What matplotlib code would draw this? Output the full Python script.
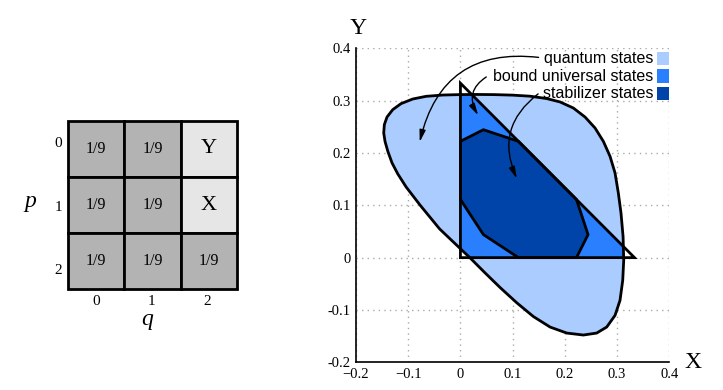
import matplotlib
matplotlib.use("Agg")
import matplotlib.pyplot as plt
from matplotlib.patches import Polygon, Rectangle

# ---------------- data ----------------
# left panel: 3x3 grid (rows p = 0..2, columns q = 0..2)
cell_labels = [["1/9", "1/9", "Y"],
               ["1/9", "1/9", "X"],
               ["1/9", "1/9", "1/9"]]
cell_light = [[False, False, True],
              [False, False, True],
              [False, False, False]]
row_ticks = ["0", "1", "2"]
col_ticks = ["0", "1", "2"]

# right panel: boundary of the quantum-state region
quantum_x = [-0.1469, -0.1457, -0.1406, -0.1296, -0.1137, -0.0913, -0.0659,
             -0.0339, -0.0020, 0.0300, 0.0650, 0.1000, 0.1330, 0.1650,
             0.1907, 0.2162, 0.2386, 0.2578, 0.2737, 0.2865, 0.2961,
             0.3024, 0.3075, 0.3115, 0.3127, 0.3108, 0.3056, 0.2961,
             0.2802, 0.2610, 0.2354, 0.2035, 0.1716, 0.1396, 0.1078,
             0.0758, 0.0450, 0.0180, 0.0000, -0.0400, -0.0770, -0.1040,
             -0.1200, -0.1310, -0.1390, -0.1444]
quantum_y = [0.2381, 0.2542, 0.2687, 0.2828, 0.2943, 0.3031, 0.3082,
             0.3107, 0.3115, 0.3118, 0.3115, 0.3105, 0.3085, 0.3040,
             0.2975, 0.2859, 0.2687, 0.2477, 0.2222, 0.1936, 0.1617,
             0.1234, 0.0852, 0.0400, -0.0050, -0.0434, -0.0816, -0.1103,
             -0.1326, -0.1441, -0.1479, -0.1441, -0.1326, -0.1125, -0.0862,
             -0.0570, -0.0270, 0.0000, 0.0170, 0.0550, 0.1000, 0.1350,
             0.1600, 0.1810, 0.2030, 0.2220]

# bound universal states: triangle
tri_x = [0.0, 1/3, 0.0]
tri_y = [0.0, 0.0, 1/3]

# stabilizer states polygon
stab_x = [0.0, 0.044, 1/9, 2/9, 0.2444, 2/9, 1/9, 0.044, 0.0]
stab_y = [2/9, 0.2444, 2/9, 1/9, 0.044, 0.0, 0.0, 0.044, 1/9]

legend_labels = ["quantum states", "bound universal states", "stabilizer states"]
legend_colors = ["#aaccff", "#2a7fff", "#0044aa"]

xticks = [-0.2, -0.1, 0.0, 0.1, 0.2, 0.3, 0.4]
xtick_labels = ["\u22120.2", "\u22120.1", "0", "0.1", "0.2", "0.3", "0.4"]
yticks = [-0.2, -0.1, 0.0, 0.1, 0.2, 0.3, 0.4]
ytick_labels = ["-0.2", "-0.1", "0", "0.1", "0.2", "0.3", "0.4"]

# ---------------- figure ----------------
W, H = 723, 390
fig = plt.figure(figsize=(W / 100, H / 100), dpi=100)
serif = ["Liberation Serif", "DejaVu Serif"]
sans = ["Liberation Sans", "DejaVu Sans"]

# ----- left panel -----
axL = fig.add_axes([68.3 / W, (H - 289.3) / H, 168.4 / W, 168.6 / H])
axL.set_xlim(0, 3)
axL.set_ylim(3, 0)
axL.axis("off")
for r in range(3):
    for c in range(3):
        fc = "#e6e6e6" if cell_light[r][c] else "#b3b3b3"
        axL.add_patch(Rectangle((c, r), 1, 1, facecolor=fc, edgecolor="black",
                                lw=2.0, clip_on=False))
        lab = cell_labels[r][c]
        big = lab in ("X", "Y")
        axL.text(c + 0.5, r + 0.5, lab, ha="center", va="center",
                 family=serif, fontsize=16 if big else 11.5)
row_y = [0.40, 1.54, 2.66]
for i, t in enumerate(row_ticks):
    axL.text(-0.18, row_y[i], t, ha="center", va="center", family=serif, fontsize=11)
col_x = [0.49, 1.49, 2.48]
for i, t in enumerate(col_ticks):
    axL.text(col_x[i], 3.22, t, ha="center", va="center", family=serif, fontsize=11)
axL.text(-0.67, 1.44, "p", ha="center", va="center", family=serif,
         style="italic", fontsize=17)
axL.text(1.40, 3.54, "q", ha="center", va="center", family=serif,
         style="italic", fontsize=17)

# ----- right panel -----
axR = fig.add_axes([356.0 / W, (H - 362.3) / H, 313.3 / W, 314.0 / H])
axR.set_xlim(-0.2, 0.4)
axR.set_ylim(-0.2, 0.4)
axR.set_xticks(xticks)
axR.set_xticklabels(xtick_labels, family=serif, fontsize=10.5)
axR.set_yticks(yticks)
axR.set_yticklabels(ytick_labels, family=serif, fontsize=10.5)
axR.tick_params(length=0, pad=4)
axR.grid(True, color="#aaaaaa", linestyle=(0, (1, 3)), lw=1.0)
axR.set_axisbelow(True)
for s in ("top", "right"):
    axR.spines[s].set_visible(False)
for s in ("left", "bottom"):
    axR.spines[s].set_linewidth(1.2)
    axR.spines[s].set_zorder(6)

qpts = list(zip(quantum_x, quantum_y))
oval = Polygon(qpts, closed=True, facecolor=legend_colors[0], edgecolor="none", zorder=2)
axR.add_patch(oval)

tri_fill = Polygon(list(zip(tri_x, tri_y)), closed=True,
                   facecolor=legend_colors[1], edgecolor="none", zorder=3)
axR.add_patch(tri_fill)
tri_fill.set_clip_path(oval)

axR.add_patch(Polygon(list(zip(stab_x, stab_y)), closed=True,
                      facecolor=legend_colors[2], edgecolor="black", lw=2.0, zorder=4))
axR.add_patch(Polygon(list(zip(tri_x, tri_y)), closed=True, facecolor="none",
                      edgecolor="black", lw=2.0, joinstyle="miter", zorder=5))
axR.add_patch(Polygon(qpts, closed=True, facecolor="none", edgecolor="black",
                      lw=2.0, joinstyle="round", zorder=5))

# legend
leg_y = [0.380, 0.347, 0.314]
for i, (lab, col) in enumerate(zip(legend_labels, legend_colors)):
    axR.add_patch(Rectangle((0.376, leg_y[i] - 0.0125), 0.024, 0.025,
                            facecolor=col, edgecolor="none", zorder=7, clip_on=False))
    axR.text(0.369, leg_y[i], lab, ha="right", va="center", family=sans,
             fontsize=11.5, zorder=7)

# arrows
arrow_kw = dict(arrowstyle="-|>,head_length=0.7,head_width=0.18", color="black",
                lw=1.0, shrinkA=2, shrinkB=0)
axR.annotate("", xy=(-0.078, 0.221), xytext=(0.155, 0.382),
             arrowprops=dict(connectionstyle="arc3,rad=0.45", **arrow_kw), zorder=8)
axR.annotate("", xy=(0.034, 0.272), xytext=(0.054, 0.348),
             arrowprops=dict(connectionstyle="arc3,rad=0.5", **arrow_kw), zorder=8)
axR.annotate("", xy=(0.108, 0.151), xytext=(0.153, 0.316),
             arrowprops=dict(connectionstyle="arc3,rad=0.4", **arrow_kw), zorder=8)

# axis letters
fig.text(358 / W, (H - 28) / H, "Y", ha="center", va="center", family=serif, fontsize=17)
fig.text(693 / W, (H - 362) / H, "X", ha="center", va="center", family=serif, fontsize=17)

fig.savefig("out.png", dpi=100)
